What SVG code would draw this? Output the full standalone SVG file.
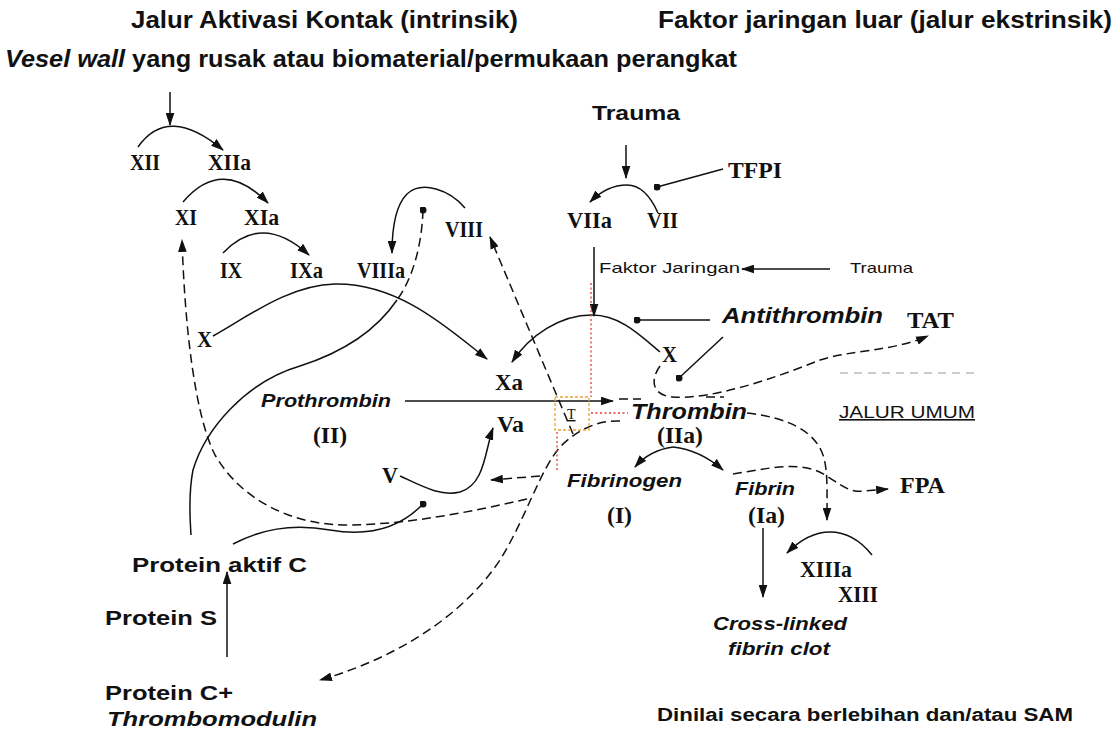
<svg xmlns="http://www.w3.org/2000/svg" width="1116" height="734" viewBox="0 0 1116 734">
<style>
.s{font-family:"Liberation Sans",Arial,sans-serif;fill:#111;font-weight:bold}
.r{font-family:"Liberation Serif","Times New Roman",serif;fill:#111;font-weight:bold;font-size:23px}
.it{font-style:italic}
.n{font-weight:normal}
.ln{fill:none;stroke:#111;stroke-width:1.5}
.da{stroke-dasharray:9 5}
.red{fill:none;stroke:#e23a3a;stroke-width:1.3;stroke-dasharray:2 2.5}
.org{fill:none;stroke:#eda23a;stroke-width:1.3;stroke-dasharray:3 2}
</style>
<defs>
<marker id="ah" viewBox="0 0 12 8" refX="11" refY="4" markerWidth="13" markerHeight="9" markerUnits="userSpaceOnUse" orient="auto"><path d="M0,0 L12,4 L0,8 Z" fill="#111"/></marker>
<marker id="dot" viewBox="0 0 8 8" refX="4" refY="4" markerWidth="7" markerHeight="7" markerUnits="userSpaceOnUse"><circle cx="4" cy="4" r="4" fill="#111"/></marker>
</defs>
<rect width="1116" height="734" fill="#fff"/>

<g id="connectors">
<path class="ln" d="M170,92 L170,125" marker-end="url(#ah)"/>
<path class="ln" d="M138,147 Q168,104 223,150" marker-end="url(#ah)"/>
<path class="ln" d="M183,202 Q222,156 268,203" marker-end="url(#ah)"/>
<path class="ln" d="M223,253 Q262,212 309,255" marker-end="url(#ah)"/>
<path class="ln" d="M465,208 C450,190 422,180 407,194 C396,205 392,225 392,253" marker-end="url(#ah)"/>
<path class="ln da" d="M423,210 C422,240 415,275 397,300" marker-start="url(#dot)"/>
<path class="ln" d="M397,300 C380,325 350,350 300,366 C245,382 205,430 193,470 C188,495 190,520 191,535"/>
<path class="ln da" d="M527,499 C470,512 410,524 350,525 C290,526 240,498 215,455 C195,415 185,330 182,240" marker-end="url(#ah)"/>
<path class="ln" d="M213,336 C250,315 290,285 335,284 C400,283 450,330 487,359" marker-end="url(#ah)"/>
<path class="ln" d="M660,352 C640,335 620,315 592,315 C560,315 530,335 512,362" marker-end="url(#ah)"/>
<path class="ln" d="M594,247 L594,316" marker-end="url(#ah)"/>
<path class="ln" d="M626,145 L626,178" marker-end="url(#ah)"/>
<path class="ln" d="M658,213 C650,195 640,185 627,185 C612,185 600,192 590,202" marker-end="url(#ah)"/>
<path class="ln" d="M723,169 L657,187" marker-end="url(#dot)"/>
<path class="ln" d="M830,269 L742,269" marker-end="url(#ah)"/>
<path class="ln" d="M710,320 L637,320" marker-end="url(#dot)"/>
<path class="ln" d="M723,337 L679,378" marker-end="url(#dot)"/>
<path class="ln da" d="M660,366 C650,380 652,395 672,397 C710,400 770,380 820,360 C850,350 890,352 928,336" marker-end="url(#ah)"/>
<path class="ln" d="M405,401 L613,401" marker-end="url(#ah)"/>
<path class="ln" d="M400,476 C420,485 440,497 460,492 C485,485 485,450 493,428" marker-end="url(#ah)"/>
<path class="ln da" d="M540,476 L491,480" marker-end="url(#ah)"/>
<path class="ln da" d="M573,434 L490,237" marker-end="url(#ah)"/>
<path class="ln da" d="M620,421 C595,420 575,432 560,447 C540,470 525,520 500,560 C460,620 390,660 320,680" marker-end="url(#ah)"/>
<path class="ln" d="M233,544 C260,530 290,523 330,530 C370,537 400,528 423,504" marker-end="url(#dot)"/>
<path class="ln" d="M227,657 L227,572" marker-end="url(#ah)"/>
<path class="ln da" d="M747,413 C790,418 815,432 823,455 C828,470 827,490 827,520" marker-end="url(#ah)"/>
<path class="ln da" d="M733,474 C760,470 790,462 815,470 C835,478 845,494 865,491 L888,489" marker-end="url(#ah)"/>
<path class="ln" d="M673,447 Q650,450 635,467" marker-end="url(#ah)"/>
<path class="ln" d="M673,447 Q700,450 723,470" marker-end="url(#ah)"/>
<path class="ln" d="M763,528 L763,597" marker-end="url(#ah)"/>
<path class="ln" d="M872,555 C860,540 845,532 830,532 C815,532 800,540 787,553" marker-end="url(#ah)"/>
<path class="ln da" d="M619,399 L641,399 M706,397 L724,397"/>
<path fill="none" stroke="#9a9a9a" stroke-width="1.2" stroke-dasharray="8 6" d="M840,373 L975,373"/>
<path class="red" d="M591,283 L591,397 M591,413 L628,413 M557,432 L557,470"/>
<rect class="org" x="555" y="397" width="34" height="33"/>
</g>

<g id="title-intrinsic"><text class="s" x="131" y="28" font-size="23" textLength="387" lengthAdjust="spacingAndGlyphs">Jalur Aktivasi Kontak (intrinsik)</text></g>
<g id="title-extrinsic"><text class="s" x="658" y="28" font-size="23" textLength="454" lengthAdjust="spacingAndGlyphs">Faktor jaringan luar (jalur ekstrinsik)</text></g>
<g id="vessel-wall"><text class="s" x="5" y="67" font-size="23" textLength="732" lengthAdjust="spacingAndGlyphs"><tspan class="it">Vesel wall</tspan> yang rusak atau biomaterial/permukaan perangkat</text></g>

<g id="n-XII"><text class="r" x="130" y="170" textLength="30" lengthAdjust="spacingAndGlyphs">XII</text></g>
<g id="n-XIIa"><text class="r" x="208" y="170" textLength="43" lengthAdjust="spacingAndGlyphs">XIIa</text></g>
<g id="n-XI"><text class="r" x="175" y="225" textLength="22" lengthAdjust="spacingAndGlyphs">XI</text></g>
<g id="n-XIa"><text class="r" x="244" y="225" textLength="35" lengthAdjust="spacingAndGlyphs">XIa</text></g>
<g id="n-IX"><text class="r" x="220" y="278" textLength="22" lengthAdjust="spacingAndGlyphs">IX</text></g>
<g id="n-IXa"><text class="r" x="290" y="278" textLength="33" lengthAdjust="spacingAndGlyphs">IXa</text></g>
<g id="n-VIIIa"><text class="r" x="357" y="278" textLength="48" lengthAdjust="spacingAndGlyphs">VIIIa</text></g>
<g id="n-VIII"><text class="r" x="445" y="237" textLength="38" lengthAdjust="spacingAndGlyphs">VIII</text></g>
<g id="n-X-left"><text class="r" x="197" y="347" textLength="15" lengthAdjust="spacingAndGlyphs">X</text></g>
<g id="n-Xa"><text class="r" x="495" y="390" textLength="28" lengthAdjust="spacingAndGlyphs">Xa</text></g>
<g id="n-Va"><text class="r" x="497" y="432" textLength="27" lengthAdjust="spacingAndGlyphs">Va</text></g>
<g id="n-V"><text class="r" x="382" y="483" textLength="16" lengthAdjust="spacingAndGlyphs">V</text></g>
<g id="n-prothrombin"><text class="s it" x="261" y="407" font-size="18" textLength="130" lengthAdjust="spacingAndGlyphs">Prothrombin</text><text class="r" x="313" y="443" textLength="34" lengthAdjust="spacingAndGlyphs">(II)</text></g>
<g id="n-thrombin"><text class="s it" x="631" y="419" font-size="22" textLength="116" lengthAdjust="spacingAndGlyphs">Thrombin</text><text class="r" x="657" y="443" textLength="46" lengthAdjust="spacingAndGlyphs">(IIa)</text></g>
<g id="n-fibrinogen"><text class="s it" x="567" y="487" font-size="18" textLength="115" lengthAdjust="spacingAndGlyphs">Fibrinogen</text><text class="r" x="607" y="523" textLength="25" lengthAdjust="spacingAndGlyphs">(I)</text></g>
<g id="n-fibrin"><text class="s it" x="735" y="495" font-size="18" textLength="60" lengthAdjust="spacingAndGlyphs">Fibrin</text><text class="r" x="748" y="523" textLength="37" lengthAdjust="spacingAndGlyphs">(Ia)</text></g>
<g id="n-clot"><text class="s it" x="713" y="630" font-size="19" textLength="134" lengthAdjust="spacingAndGlyphs">Cross-linked</text><text class="s it" x="728" y="655" font-size="19" textLength="102" lengthAdjust="spacingAndGlyphs">fibrin clot</text></g>
<g id="n-XIIIa"><text class="r" x="800" y="577" textLength="52" lengthAdjust="spacingAndGlyphs">XIIIa</text></g>
<g id="n-XIII"><text class="r" x="838" y="602" textLength="40" lengthAdjust="spacingAndGlyphs">XIII</text></g>
<g id="n-FPA"><text class="r" x="900" y="493" textLength="45" lengthAdjust="spacingAndGlyphs">FPA</text></g>
<g id="n-jalur-umum"><text class="s n" x="839" y="418" font-size="16" textLength="136" lengthAdjust="spacingAndGlyphs" text-decoration="underline">JALUR UMUM</text></g>
<g id="n-trauma-top"><text class="s" x="592" y="120" font-size="20" textLength="88" lengthAdjust="spacingAndGlyphs">Trauma</text></g>
<g id="n-VIIa"><text class="r" x="567" y="228" textLength="45" lengthAdjust="spacingAndGlyphs">VIIa</text></g>
<g id="n-VII"><text class="r" x="647" y="228" textLength="31" lengthAdjust="spacingAndGlyphs">VII</text></g>
<g id="n-TFPI"><text class="r" x="728" y="178" textLength="54" lengthAdjust="spacingAndGlyphs">TFPI</text></g>
<g id="n-faktor-jaringan"><text class="s n" x="599" y="273" font-size="15" textLength="141" lengthAdjust="spacingAndGlyphs">Faktor Jaringan</text></g>
<g id="n-trauma-right"><text class="s n" x="850" y="273" font-size="15" textLength="63" lengthAdjust="spacingAndGlyphs">Trauma</text></g>
<g id="n-antithrombin"><text class="s it" x="722" y="323" font-size="22" textLength="161" lengthAdjust="spacingAndGlyphs">Antithrombin</text></g>
<g id="n-TAT"><text class="r" x="907" y="328" textLength="47" lengthAdjust="spacingAndGlyphs">TAT</text></g>
<g id="n-X-right"><text class="r" x="662" y="362" textLength="15" lengthAdjust="spacingAndGlyphs">X</text></g>
<g id="n-T"><text x="567" y="419" font-family="Liberation Serif,serif" font-size="14" fill="#111" text-decoration="underline">T</text></g>
<g id="n-protein-aktif-c"><text class="s" x="132" y="572" font-size="20" textLength="175" lengthAdjust="spacingAndGlyphs">Protein aktif C</text></g>
<g id="n-protein-s"><text class="s" x="105" y="625" font-size="20" textLength="112" lengthAdjust="spacingAndGlyphs">Protein S</text></g>
<g id="n-protein-c"><text class="s" x="105" y="700" font-size="20" textLength="128" lengthAdjust="spacingAndGlyphs">Protein C+</text><text class="s it" x="107" y="726" font-size="20" textLength="210" lengthAdjust="spacingAndGlyphs">Thrombomodulin</text></g>
<g id="n-dinilai"><text class="s" x="657" y="721" font-size="18" textLength="416" lengthAdjust="spacingAndGlyphs">Dinilai secara berlebihan dan/atau SAM</text></g>
</svg>
